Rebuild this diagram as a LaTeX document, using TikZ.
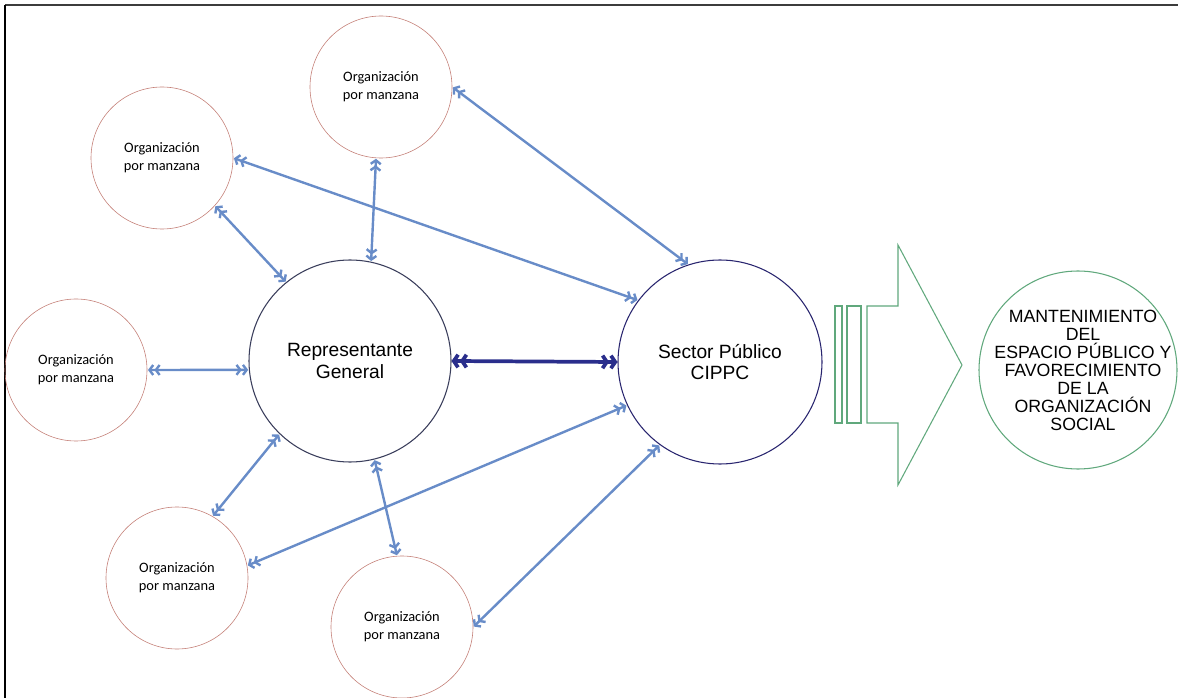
\documentclass[tikz,border=0pt]{standalone}
\usepackage{fontspec}
\setmainfont{Liberation Sans}
\newfontfamily\orgfont{Carlito}
\usetikzlibrary{arrows.meta}
\definecolor{orgred}{RGB}{196,128,120}
\definecolor{repgray}{RGB}{58,62,92}
\definecolor{secnavy}{RGB}{40,36,110}
\definecolor{linkblue}{RGB}{104,140,200}
\definecolor{mainnavy}{RGB}{42,46,140}
\definecolor{goalgreen}{RGB}{96,168,124}
\definecolor{framegray}{RGB}{60,60,60}
\tikzset{
  >={Straight Barb[length=2.8pt,width=7.5pt]},
  org/.style={circle, draw=orgred, line width=0.45pt, minimum size=106.5pt, inner sep=0pt,
    align=center, font=\orgfont\fontsize{10.8}{13.5}\selectfont},
  hub/.style={circle, line width=0.8pt, inner sep=0pt, align=center,
    font=\fontsize{14.4}{15.8}\selectfont},
  goal/.style={circle, draw=goalgreen, line width=0.8pt, minimum size=148.5pt, inner sep=0pt},
  goaltext/.style={align=center, inner sep=0pt, font=\fontsize{13.3}{13.5}\selectfont},
  link/.style={<<->>, draw=linkblue, line width=1.8pt, shorten <=0.5pt, shorten >=0.5pt},
  mainlink/.style={<<->>, draw=mainnavy, line width=2.8pt,
    >={Straight Barb[length=3.2pt,width=9.5pt]}},
  greenshape/.style={draw=goalgreen, line width=0.8pt}
}
\begin{document}
\begin{tikzpicture}[x=0.75pt, y=-0.75pt]
  \useasboundingbox (0,0) rectangle (1178,698);
  % frame lines along the top and left edges
  \draw[framegray, line width=1.6pt] (5,5) -- (1178,5);
  \draw[black, line width=1.6pt] (5,5) -- (5,698);

  % hubs
  \node[hub, draw=repgray, minimum size=151.5pt] (rep) at (350,361) {Representante\\General};
  \node[hub, draw=secnavy, minimum size=153pt] (sec) at (720,362) {Sector Público\\CIPPC};

  % block organisations
  \node[org] (o1) at (381,87)  {Organización\\por manzana};
  \node[org] (o2) at (162,158) {Organización\\por manzana};
  \node[org] (o3) at (76,370)  {Organización\\por manzana};
  \node[org] (o4) at (177,578) {Organización\\por manzana};
  \node[org] (o5) at (402,627) {Organización\\por manzana};

  % outcome
  \node[goal] (goal) at (1078,370) {};
  \node[goaltext] (goallabel) at (1083,370) {MANTENIMIENTO\\DEL\\ESPACIO PÚBLICO Y\\FAVORECIMIENTO\\DE LA\\ORGANIZACIÓN\\SOCIAL};

  % links between organisations and hubs
  \draw[link] (o1.266) -- (rep.78);
  \draw[link] (o1.0)   -- (sec.108);
  \draw[link] (o2.0)   -- (sec.143);
  \draw[link] (o2.318) -- (rep.129);
  \draw[link] (o3.0)   -- (rep.185);
  \draw[link] (o4.60)  -- (rep.226);
  \draw[link] (o4.10)  -- (sec.205);
  \draw[link] (o5.94)  -- (rep.284);
  \draw[link] (o5.0)   -- (sec.234);
  \draw[mainlink] (rep.0) -- (sec.180);

  % green block arrow with two bars
  \draw[greenshape] (835,306) rectangle (842,423);
  \draw[greenshape] (847,306) rectangle (861,423);
  \draw[greenshape] (867,306) -- (898,306) -- (898,245) -- (962,365)
     -- (898,485) -- (898,423) -- (867,423) -- cycle;
\end{tikzpicture}
\end{document}
